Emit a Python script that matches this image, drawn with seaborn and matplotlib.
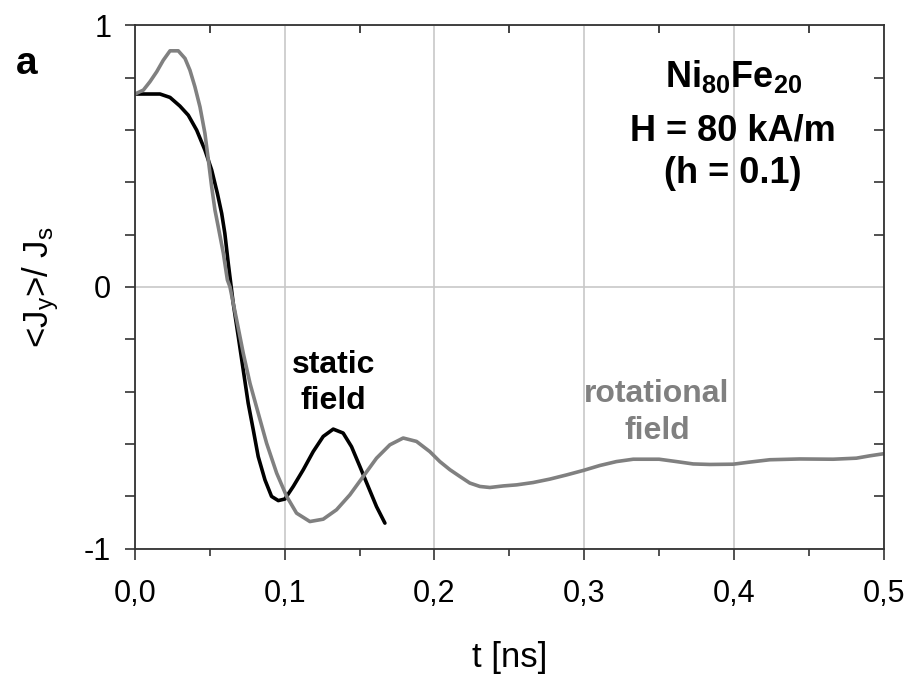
import numpy as np
import pandas as pd
import seaborn as sns
import matplotlib.pyplot as plt
from matplotlib.ticker import MultipleLocator, FixedLocator, FuncFormatter

# Data
static_t = [0.0, 0.0167, 0.0234, 0.030, 0.0356, 0.0412, 0.0467, 0.0512, 0.055, 0.0579,
            0.060, 0.0623, 0.0656, 0.069, 0.0723, 0.0756, 0.079, 0.0823, 0.0868, 0.0912,
            0.0957, 0.1001, 0.1057, 0.1124, 0.119, 0.1257, 0.1324, 0.139, 0.1446, 0.1502,
            0.1557, 0.1613, 0.1669]
static_v = [0.737, 0.737, 0.724, 0.691, 0.656, 0.599, 0.523, 0.447, 0.358, 0.281,
            0.205, 0.09, -0.062, -0.19, -0.317, -0.444, -0.546, -0.648, -0.737, -0.80,
            -0.816, -0.81, -0.762, -0.698, -0.629, -0.571, -0.543, -0.558, -0.61, -0.686,
            -0.762, -0.839, -0.902]

rot_t = [0.0, 0.0056, 0.010, 0.0145, 0.0189, 0.0234, 0.0289, 0.0334, 0.0367, 0.040,
         0.0434, 0.0467, 0.049, 0.0512, 0.0534, 0.0556, 0.059, 0.0617, 0.0634, 0.0679,
         0.0723, 0.0768, 0.0823, 0.0879, 0.0946, 0.1013, 0.1079, 0.1168, 0.1257, 0.1346,
         0.1435, 0.1524, 0.1613, 0.1702, 0.1791, 0.188, 0.1969, 0.2036, 0.2103, 0.217,
         0.2236, 0.2303, 0.237, 0.2459, 0.2548, 0.2659, 0.277, 0.2882, 0.2993, 0.3104,
         0.3215, 0.3327, 0.350, 0.3616, 0.3727, 0.3838, 0.3994, 0.4105, 0.4239, 0.444,
         0.4662, 0.4817, 0.4907, 0.500]
rot_v = [0.737, 0.752, 0.784, 0.822, 0.866, 0.902, 0.902, 0.873, 0.828, 0.765,
         0.688, 0.587, 0.485, 0.383, 0.294, 0.23, 0.129, 0.027, 0.001, -0.126,
         -0.253, -0.368, -0.482, -0.597, -0.711, -0.80, -0.864, -0.896, -0.887, -0.851,
         -0.794, -0.724, -0.654, -0.603, -0.577, -0.59, -0.629, -0.667, -0.698, -0.724,
         -0.749, -0.762, -0.766, -0.76, -0.756, -0.747, -0.734, -0.718, -0.701, -0.682,
         -0.667, -0.658, -0.658, -0.667, -0.676, -0.678, -0.677, -0.669, -0.66, -0.657,
         -0.658, -0.654, -0.645, -0.637]

x_ticks = [0.0, 0.1, 0.2, 0.3, 0.4, 0.5]
y_ticks = [-1, 0, 1]
top_ticks = [0.05, 0.15, 0.25, 0.35, 0.45]
right_ticks = [-0.8, -0.6, -0.4, -0.2, 0.2, 0.4, 0.6, 0.8]

GRAY = "#808080"
AXIS = "#333333"

sns.set_style("white")
plt.rcParams['font.family'] = ['Liberation Sans', 'DejaVu Sans']
plt.rcParams['mathtext.fontset'] = 'custom'
plt.rcParams['mathtext.rm'] = 'Liberation Sans'
plt.rcParams['mathtext.bf'] = 'Liberation Sans:bold'
plt.rcParams['mathtext.default'] = 'regular'
plt.rcParams['text.color'] = 'black'
plt.rcParams['axes.labelcolor'] = 'black'
plt.rcParams['xtick.color'] = 'black'
plt.rcParams['ytick.color'] = 'black'

fig = plt.figure(figsize=(9.12, 6.8), dpi=100)
ax = fig.add_axes([0.148, 0.193, 0.821, 0.770])

df_static = pd.DataFrame({"t": static_t, "v": static_v})
df_rot = pd.DataFrame({"t": rot_t, "v": rot_v})
sns.lineplot(data=df_static, x="t", y="v", ax=ax, color="black", linewidth=2.6, sort=False)
sns.lineplot(data=df_rot, x="t", y="v", ax=ax, color=GRAY, linewidth=2.6, sort=False)

ax.set_xlim(0, 0.5)
ax.set_ylim(-1, 1)
ax.xaxis.set_major_locator(FixedLocator(x_ticks))
ax.xaxis.set_minor_locator(MultipleLocator(0.05))
ax.yaxis.set_major_locator(FixedLocator(y_ticks))
ax.yaxis.set_minor_locator(MultipleLocator(0.2))
ax.xaxis.set_major_formatter(FuncFormatter(lambda v, p: f"{v:.1f}".replace(".", ",")))
ax.yaxis.set_major_formatter(FuncFormatter(lambda v, p: f"{v:.0f}"))

ax.tick_params(axis='both', which='both', direction='out', width=1.2,
               color=AXIS, labelsize=22, labelcolor='black')
ax.tick_params(axis='x', which='both', bottom=True, top=False)
ax.tick_params(axis='x', which='major', length=8, pad=14)
ax.tick_params(axis='x', which='minor', length=5)
ax.tick_params(axis='y', which='both', left=True, right=False, length=7, pad=10)

for s in ax.spines.values():
    s.set_color(AXIS)
    s.set_linewidth(1.3)

ax.set_axisbelow(True)
ax.grid(True, which='major', color="#c8c8c8", lw=1.2)

# inward ticks on top and right (twin axes sharing the limits)
ax_top = ax.twiny()
ax_top.set_xlim(ax.get_xlim())
ax_top.set_xticks(top_ticks)
ax_top.tick_params(axis='x', top=True, bottom=False, direction='in', length=6, width=1.3,
                   color=AXIS, labeltop=False, labelbottom=False)
ax_right = ax.twinx()
ax_right.set_ylim(ax.get_ylim())
ax_right.set_yticks(right_ticks)
ax_right.tick_params(axis='y', right=True, left=False, direction='in', length=7, width=1.2,
                     color=AXIS, labelright=False, labelleft=False)
for a in (ax_top, ax_right):
    for s in a.spines.values():
        s.set_visible(False)

ax.set_xlabel("t [ns]", fontsize=25, labelpad=23)
ax.set_ylabel("<J$_y$>/ J$_s$", fontsize=25, labelpad=17)

ax.text(0.3995, 0.763, r"Ni$\mathbf{_{80}}$Fe$\mathbf{_{20}}$", fontsize=26, fontweight='bold',
        ha='center', va='baseline')
ax.text(0.3995, 0.561, "H = 80 kA/m", fontsize=26, fontweight='bold', ha='center', va='baseline')
ax.text(0.3995, 0.397, "(h = 0.1)", fontsize=26, fontweight='bold', ha='center', va='baseline')
ax.text(0.1328, -0.327, "static", fontsize=23, fontweight='bold', ha='center', va='baseline')
ax.text(0.1325, -0.466, "field", fontsize=23, fontweight='bold', ha='center', va='baseline')
ax.text(0.3485, -0.438, "rotational", fontsize=23, fontweight='bold', color=GRAY,
        ha='center', va='baseline')
ax.text(0.3485, -0.581, "field", fontsize=23, fontweight='bold', color=GRAY,
        ha='center', va='baseline')

fig.text(27 / 912, 1 - 64 / 680, "a", fontsize=28, fontweight='bold', ha='center', va='center')

fig.savefig("out.png", dpi=100)
